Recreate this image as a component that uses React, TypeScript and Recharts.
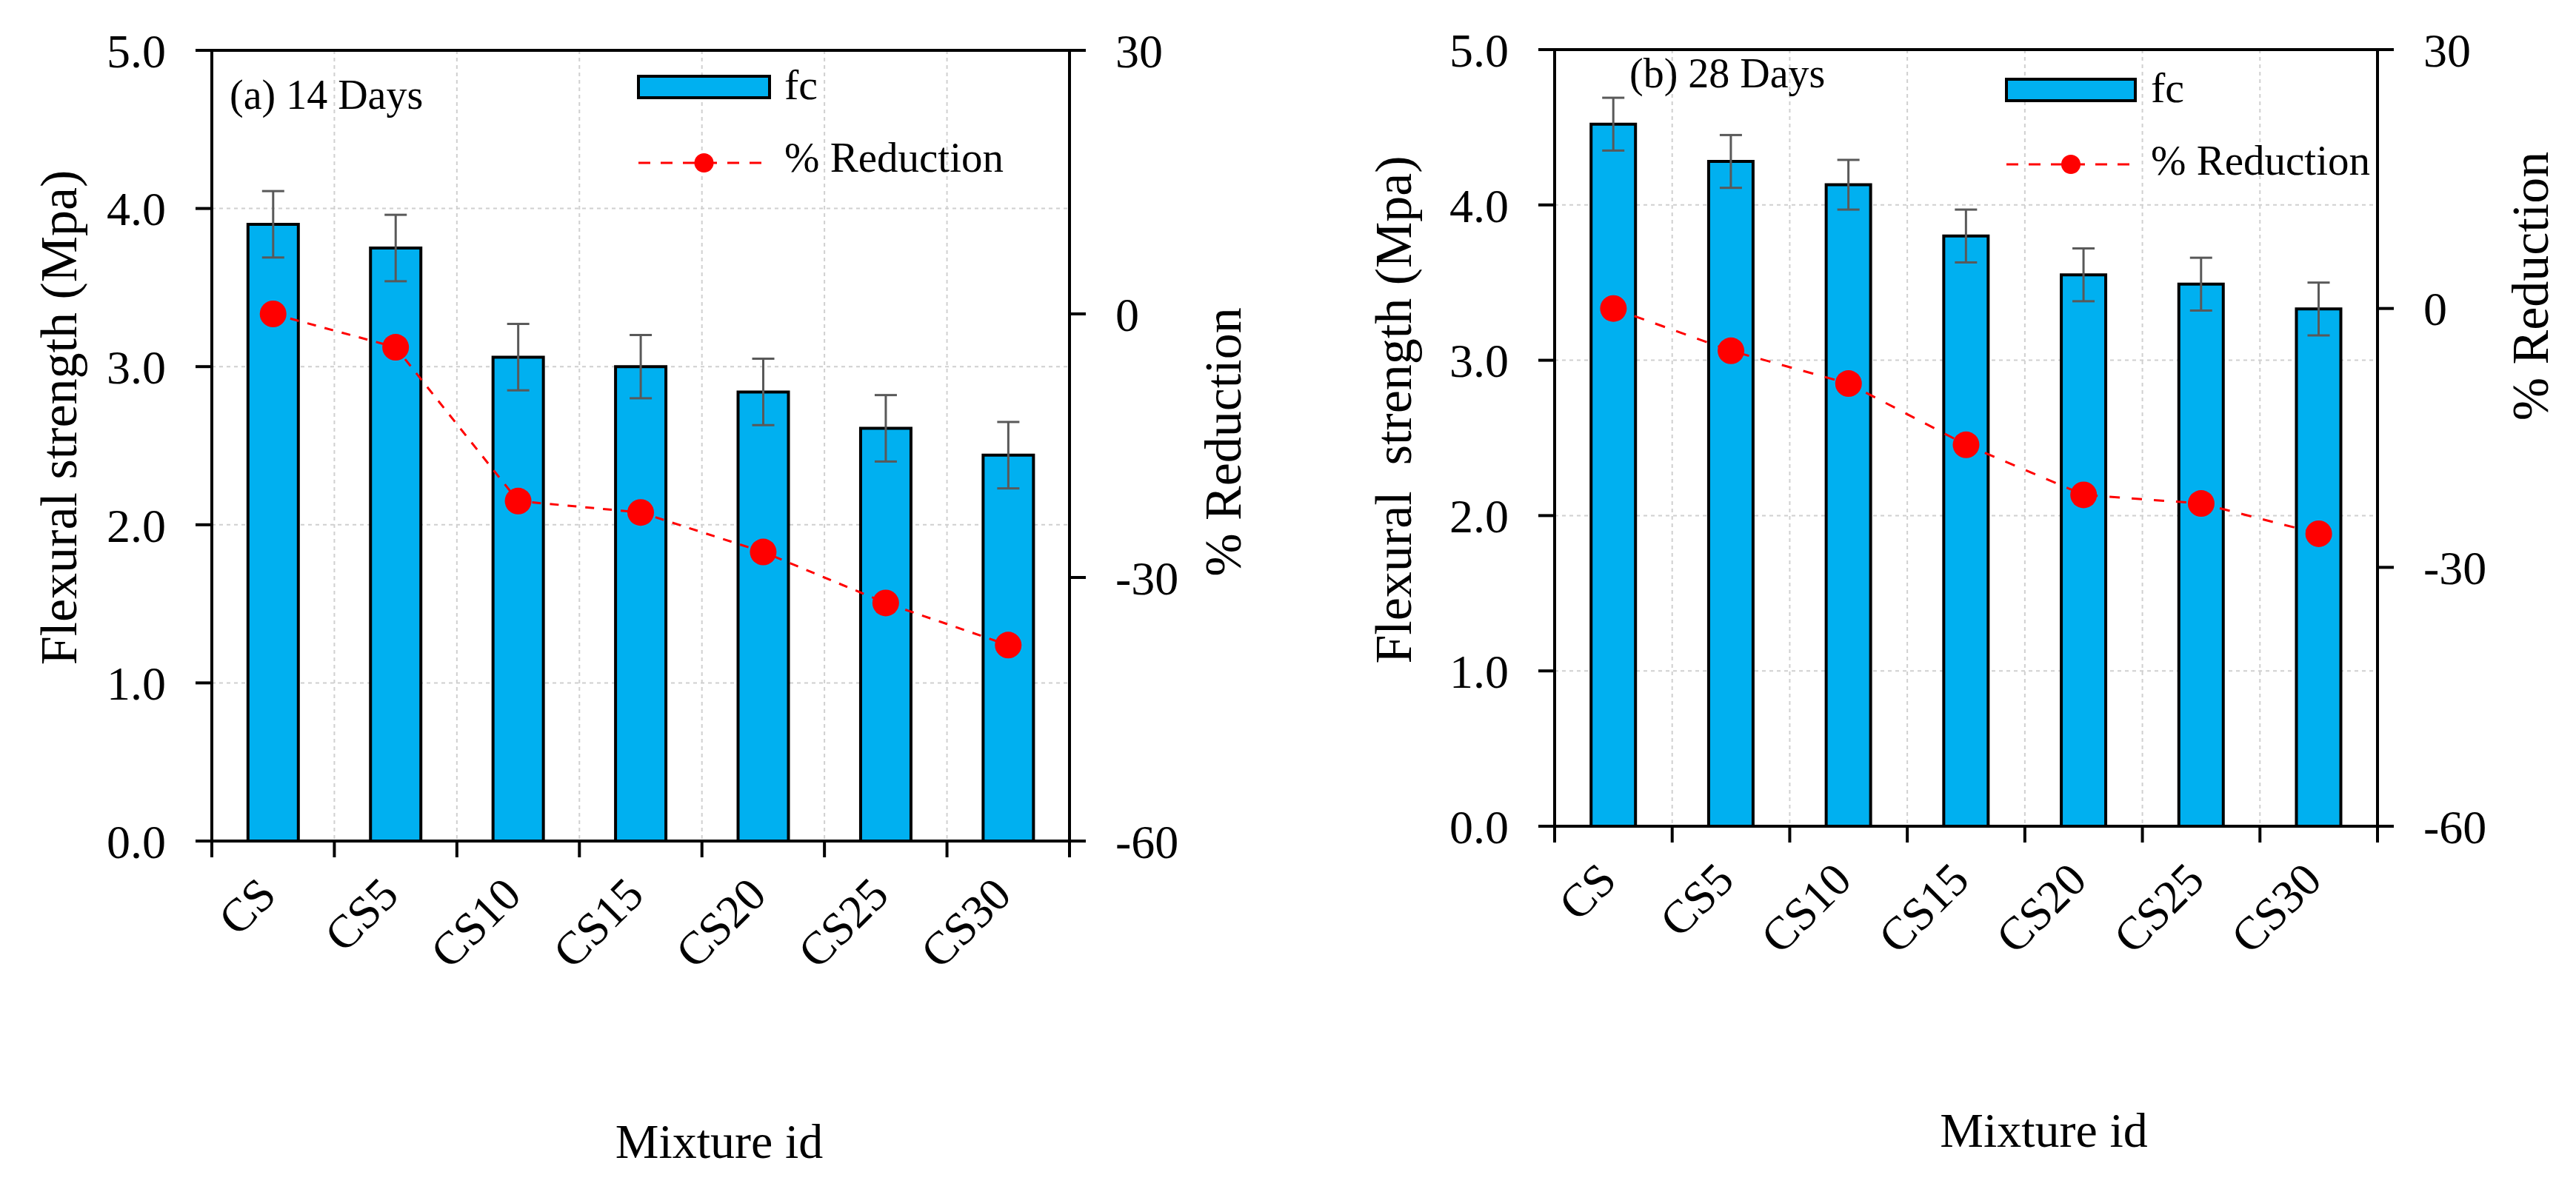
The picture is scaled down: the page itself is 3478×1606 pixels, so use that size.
import {
  ComposedChart,
  Bar,
  Line,
  XAxis,
  YAxis,
  CartesianGrid,
  ErrorBar,
  ReferenceLine,
  Legend,
} from "recharts";

const FONT = '"Times New Roman", "Liberation Serif", serif';
const BAR_BLUE = "#00B0F0";
const RED = "#FF0000";

const mixtures = ["CS", "CS5", "CS10", "CS15", "CS20", "CS25", "CS30"];

// (a) 14 days
const fc14 = [3.9, 3.75, 3.06, 3.0, 2.84, 2.61, 2.44];
const err14 = [0.21, 0.21, 0.21, 0.2, 0.21, 0.21, 0.21];
const reduction14 = [0, -3.8, -21.3, -22.6, -27.1, -32.9, -37.7];

// (b) 28 days
const fc28 = [4.52, 4.28, 4.13, 3.8, 3.55, 3.49, 3.33];
const err28 = [0.17, 0.17, 0.16, 0.17, 0.17, 0.17, 0.17];
const reduction28 = [0, -4.9, -8.7, -15.8, -21.6, -22.6, -26.1];

const strengthTicks = [0, 1, 2, 3, 4, 5];
const reductionTicks = [-60, -30, 0, 30];

const toRows = (fc: number[], err: number[], red: number[]) =>
  mixtures.map((mix, i) => ({ mix, fc: fc[i], err: err[i], red: red[i] }));

// category label, plus the Excel-style tick marks that sit between categories
function MixTick(props: any) {
  const { x, y, payload, index, width } = props;
  const band = width / mixtures.length;
  const bx = x + 7;
  const by = y + 76;
  const left = x - band / 2;
  const right = x + band / 2;
  return (
    <g>
      <line x1={left} x2={left} y1={y} y2={y + 22} stroke="#000" strokeWidth={4} />
      {index === mixtures.length - 1 && (
        <line x1={right} x2={right} y1={y} y2={y + 22} stroke="#000" strokeWidth={4} />
      )}
      <text
        x={bx}
        y={by}
        textAnchor="end"
        transform={`rotate(-45, ${bx}, ${by})`}
        fontSize={63}
        fontFamily={FONT}
        fill="#000"
      >
        {payload.value}
      </text>
    </g>
  );
}

const boundaryLines = ({ offset }: any) =>
  [...mixtures, "end"].map((_, i) => offset.left + (i * offset.width) / mixtures.length);

function LegendArt({ spec, width }: { spec: any; width: number }) {
  const lineMid = spec.rectX + spec.rectW / 2;
  return (
    <svg width={width} height={300} style={{ overflow: "visible" }}>
      <text x={spec.titleX} y={spec.titleY} fontSize={56} fontFamily={FONT} fill="#000">
        {spec.title}
      </text>
      <rect
        x={spec.rectX}
        y={spec.rectY}
        width={spec.rectW}
        height={29}
        fill={BAR_BLUE}
        stroke="#000"
        strokeWidth={4}
      />
      <text x={spec.textX} y={spec.fcBase} fontSize={58} fontFamily={FONT} fill="#000">
        fc
      </text>
      <line
        x1={spec.rectX}
        x2={spec.rectX + spec.rectW}
        y1={spec.lineY}
        y2={spec.lineY}
        stroke={RED}
        strokeWidth={3}
        strokeDasharray="16 14"
      />
      <circle cx={lineMid} cy={spec.lineY} r={13} fill={RED} />
      <text x={spec.textX} y={spec.redBase} fontSize={57} fontFamily={FONT} fill="#000">
        % Reduction
      </text>
    </svg>
  );
}

function Panel(props: any) {
  const { rows, width, height, margin, gap, dash, legend, labels } = props;
  return (
    <ComposedChart
      width={width}
      height={height}
      data={rows}
      margin={margin}
      barCategoryGap={gap}
    >
      <CartesianGrid
        yAxisId="left"
        stroke="#D0D0D0"
        strokeWidth={2}
        strokeDasharray="5 5"
        verticalCoordinatesGenerator={boundaryLines}
      />
      <XAxis
        dataKey="mix"
        interval={0}
        height={1}
        tickSize={0}
        tickMargin={0}
        tickLine={false}
        axisLine={{ stroke: "#000", strokeWidth: 4 }}
        tick={<MixTick />}
        label={{
          value: "Mixture id",
          position: "center",
          dx: labels.xDx,
          dy: labels.xDy,
          fontSize: 66,
          fontFamily: FONT,
          fill: "#000",
        }}
      />
      <YAxis
        yAxisId="left"
        width={200}
        domain={[0, 5]}
        ticks={strengthTicks}
        interval={0}
        tickFormatter={(v: number) => v.toFixed(1)}
        tickSize={22}
        tickMargin={40}
        tick={{ fontSize: 64, fontFamily: FONT, fill: "#000" }}
        axisLine={{ stroke: "#000", strokeWidth: 4 }}
        tickLine={{ stroke: "#000", strokeWidth: 4 }}
        label={{
          value: labels.left,
          angle: -90,
          position: "center",
          dx: labels.leftDx,
          dy: labels.leftDy,
          fontSize: 70,
          fontFamily: FONT,
          fill: "#000",
        }}
      />
      <YAxis
        yAxisId="right"
        orientation="right"
        width={200}
        domain={[-60, 30]}
        ticks={reductionTicks}
        interval={0}
        tickSize={22}
        tickMargin={40}
        tick={{ fontSize: 64, fontFamily: FONT, fill: "#000" }}
        axisLine={{ stroke: "#000", strokeWidth: 4 }}
        tickLine={{ stroke: "#000", strokeWidth: 4 }}
        label={{
          value: "% Reduction",
          angle: -90,
          position: "center",
          dx: labels.rightDx,
          dy: labels.rightDy,
          fontSize: 70,
          fontFamily: FONT,
          fill: "#000",
        }}
      />
      <ReferenceLine yAxisId="left" y={5} stroke="#000" strokeWidth={4} />
      <Bar
        yAxisId="left"
        dataKey="fc"
        fill={BAR_BLUE}
        stroke="#000"
        strokeWidth={4}
        isAnimationActive={false}
      >
        <ErrorBar
          dataKey="err"
          direction="y"
          width={15}
          stroke="#595959"
          strokeWidth={3}
          isAnimationActive={false}
        />
      </Bar>
      <Line
        yAxisId="right"
        type="linear"
        dataKey="red"
        stroke={RED}
        strokeWidth={3}
        strokeDasharray={dash}
        dot={{ r: 18, fill: RED, stroke: "none", strokeWidth: 0 }}
        activeDot={false}
        isAnimationActive={false}
      />
      <Legend
        layout="vertical"
        align="center"
        verticalAlign="middle"
        wrapperStyle={{ left: 0, top: 0, width, height: 300, pointerEvents: "none" }}
        content={() => <LegendArt spec={legend} width={width} />}
      />
    </ComposedChart>
  );
}

export default function App() {
  return (
    <div
      style={{
        position: "absolute",
        left: 0,
        top: 0,
        width: 3478,
        height: 1606,
        background: "#fff",
      }}
    >
      <div style={{ position: "absolute", left: 0, top: 0 }}>
        <Panel
          rows={toRows(fc14, err14, reduction14)}
          width={1740}
          height={1606}
          margin={{ top: 68, left: 86, right: 96, bottom: 469 }}
          gap="29.5%"
          dash="12 12"
          labels={{
            left: "Flexural strength (Mpa)",
            leftDx: -108,
            leftDy: -38,
            rightDx: 106,
            rightDy: -5,
            xDx: 106,
            xDy: 404,
          }}
          legend={{
            title: "(a) 14 Days",
            titleX: 310,
            titleY: 147,
            rectX: 862,
            rectY: 103,
            rectW: 177,
            textX: 1059,
            fcBase: 134,
            lineY: 220,
            redBase: 232,
          }}
        />
      </div>
      <div style={{ position: "absolute", left: 1740, top: 0 }}>
        <Panel
          rows={toRows(fc28, err28, reduction28)}
          width={1738}
          height={1606}
          margin={{ top: 67, left: 159, right: 68, bottom: 489 }}
          gap="31%"
          dash="14 16"
          labels={{
            left: "Flexural\u00A0 strength (Mpa)",
            leftDx: -119,
            leftDy: -38,
            rightDx: 105,
            rightDy: -205,
            xDx: 105,
            xDy: 409,
          }}
          legend={{
            title: "(b) 28 Days",
            titleX: 460,
            titleY: 118,
            rectX: 969,
            rectY: 107,
            rectW: 174,
            textX: 1164,
            fcBase: 138,
            lineY: 222,
            redBase: 236,
          }}
        />
      </div>
    </div>
  );
}
